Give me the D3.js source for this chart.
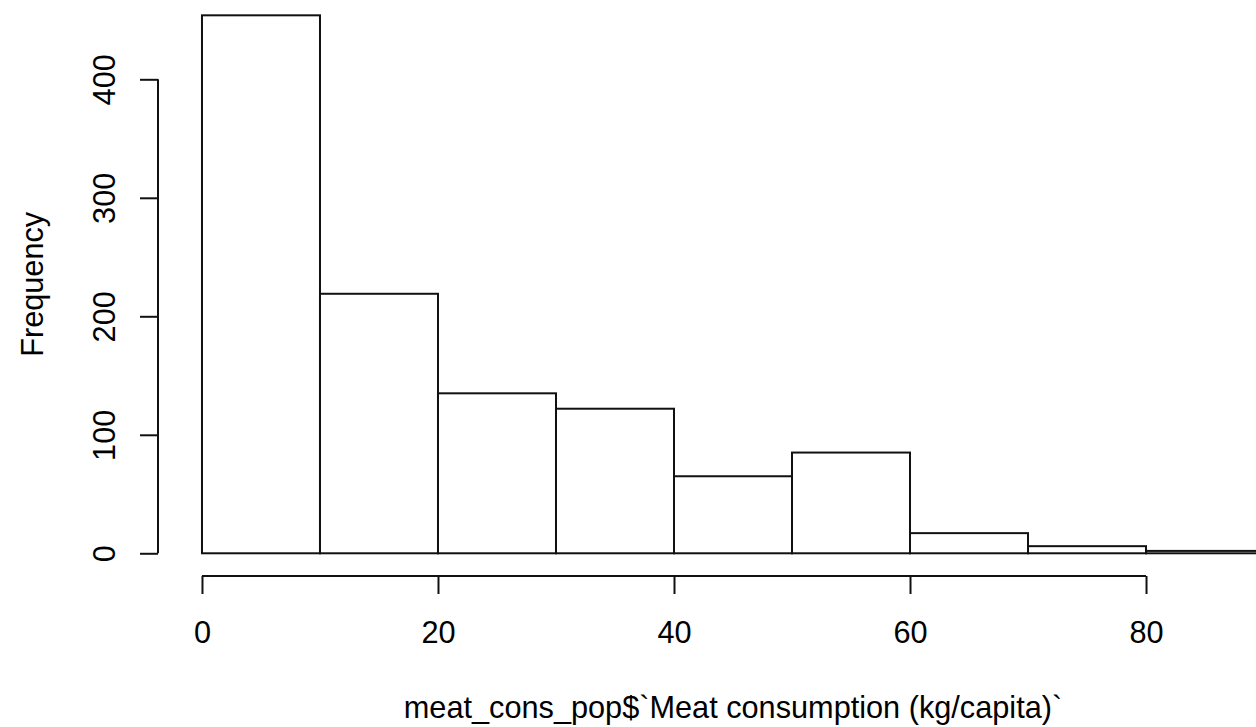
<!DOCTYPE html>
<html>
<head>
<meta charset="utf-8">
<script src="https://cdnjs.cloudflare.com/ajax/libs/d3/7.8.5/d3.min.js"></script>
<style>
  body { margin: 0; background: #fff; }
  text { font-family: "Liberation Sans", Arial, sans-serif; fill: #000; }
</style>
</head>
<body>
<div id="chart"></div>
<script>
'use strict'

/*
 @Data: histogram of meat consumption
*/
let binStarts = [0, 10, 20, 30, 40, 50, 60, 70, 80]
let binWidth = 10
let counts = [454, 219, 135, 122, 65, 85, 17, 6, 2]
let xTicks = [0, 20, 40, 60, 80]
let yTicks = [0, 100, 200, 300, 400]
let xLabel = "meat_cons_pop$`Meat consumption (kg/capita)`"
let yLabel = "Frequency"

/*
 @Constants: Setup variable
*/
let width = 1256
let height = 727
let fontSize = 30.7
let plot = { left: 159.5, right: 1306.5, top: -6.2, bottom: 574.8 }
let axisY = 576 // x axis line
let axisX = 158 // y axis line
let tickLen = 18
let lineW = 2

// R style 4% extension on both sides
let xmin = binStarts[0], xmax = binStarts[binStarts.length - 1] + binWidth
let xpad = (xmax - xmin) * 0.04
let ymax = d3.max(counts)
let ypad = ymax * 0.04

let xscale = d3.scaleLinear()
  .domain([xmin - xpad, xmax + xpad])
  .range([plot.left, plot.right])

let yscale = d3.scaleLinear()
  .domain([-ypad, ymax + ypad])
  .range([plot.bottom, plot.top])

let svg = d3.select("#chart").append("svg")
  .attr("width", width)
  .attr("height", height)

// bars
svg.append("g").selectAll("rect")
  .data(counts)
  .enter()
  .append("rect")
  .attr("x", (d, i) => xscale(binStarts[i]))
  .attr("y", d => yscale(d))
  .attr("width", (d, i) => xscale(binStarts[i] + binWidth) - xscale(binStarts[i]))
  .attr("height", d => yscale(0) - yscale(d))
  .style("fill", "none")
  .style("stroke", "#111")
  .style("stroke-width", lineW)

// x axis
let x_axis = d3.axisBottom(xscale)
  .tickValues(xTicks)
  .tickSize(tickLen)
  .tickFormat(d3.format("d"))

let gx = svg.append("g")
  .attr("transform", "translate(0," + axisY + ")")
  .call(x_axis)
gx.select(".domain").remove()
gx.append("line")
  .attr("x1", xscale(xTicks[0]))
  .attr("x2", xscale(xTicks[xTicks.length - 1]))
  .attr("stroke", "#111")
  .attr("stroke-width", lineW)
gx.selectAll(".tick line").attr("stroke", "#111").attr("stroke-width", lineW)
gx.selectAll(".tick text")
  .attr("y", 67)
  .attr("dy", null)
  .style("font-size", fontSize + "px")
  .style("font-family", "Liberation Sans, Arial, sans-serif")
  .attr("fill", "#000")

// y axis
let y_axis = d3.axisLeft(yscale)
  .tickValues(yTicks)
  .tickSize(tickLen)
  .tickFormat(d3.format("d"))

let gy = svg.append("g")
  .attr("transform", "translate(" + axisX + ",0)")
  .call(y_axis)
gy.select(".domain").remove()
gy.append("line")
  .attr("y1", yscale(yTicks[0]))
  .attr("y2", yscale(yTicks[yTicks.length - 1]))
  .attr("stroke", "#111")
  .attr("stroke-width", lineW)
gy.selectAll(".tick line").attr("stroke", "#111").attr("stroke-width", lineW)
gy.selectAll(".tick text")
  .attr("x", 0)
  .attr("y", -43)
  .attr("dy", null)
  .attr("transform", "rotate(-90)")
  .attr("text-anchor", "middle")
  .style("font-size", fontSize + "px")
  .style("font-family", "Liberation Sans, Arial, sans-serif")
  .attr("fill", "#000")

// axis titles
svg.append("text")
  .attr("x", (plot.left + plot.right) / 2)
  .attr("y", 718)
  .attr("text-anchor", "middle")
  .style("font-size", fontSize + "px")
  .text(xLabel)

svg.append("text")
  .attr("transform", "translate(43," + ((plot.top + plot.bottom) / 2) + ") rotate(-90)")
  .attr("text-anchor", "middle")
  .style("font-size", fontSize + "px")
  .text(yLabel)
</script>
</body>
</html>
